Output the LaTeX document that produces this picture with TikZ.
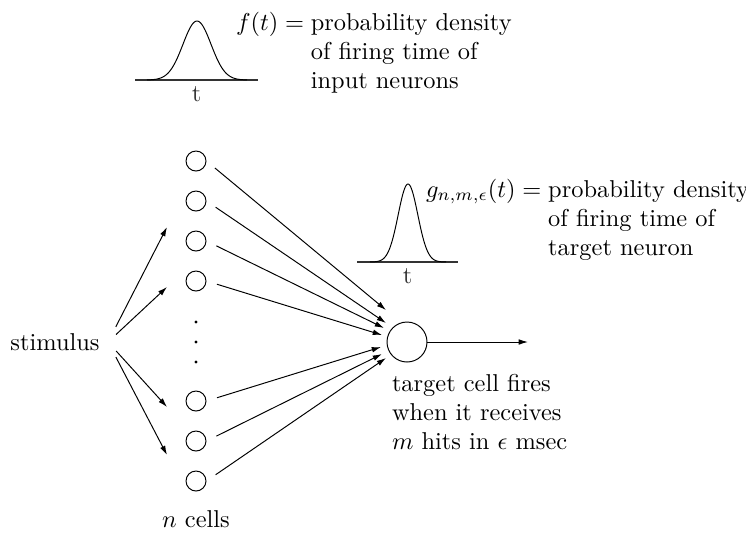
\documentclass[tikz,border=0pt]{standalone}
\usepackage{amsmath, amssymb}
\usepackage{tikz}
\usetikzlibrary{arrows.meta, calc, positioning}
\tikzset{
  >=latex,
  % neuroni
  cell/.style={circle,draw,thin,minimum size=8.2pt,inner sep=0pt},
  cell target/.style={cell,minimum size=16.4pt},
  % testi
  label/.style={inner sep=0pt,outer sep=0pt},
  % curve di densita
  axis line/.style={line width=0.6pt,black!80},
  density/.style={thin,smooth}
}

\begin{document}
\begin{tikzpicture}[x=0.41pt,y=-0.41pt,
      arr/.style={-{Latex[length=3.8pt,width=2.3pt]},thin}]
  \useasboundingbox (0,0) rectangle (746,533);
  % densita in ingresso
  \draw[axis line] (135,80) -- (258,80) node[label,midway,below=2.5pt] (tin) {t};
  \draw[density] plot[domain=-50:50,samples=80] ({197+\x},{80-59*exp(-(\x/14)^2/2)});
  \node[label,anchor=base west] (fin) at (236,30)
    {\begin{tabular}[t]{@{}r@{}l@{}}
       $f(t) = {}$ & probability density\\
                   & of firing time of\\
                   & input neurons
     \end{tabular}};
  % densita in uscita
  \draw[axis line] (357,262) -- (458,262) node[label,midway,below=2.5pt] (tout) {t};
  \draw[density] plot[domain=-38:38,samples=80] ({408+\x},{262-78*exp(-(\x/9.8)^2/2)});
  \node[label,anchor=base west] (gout) at (426,197)
    {\begin{tabular}[t]{@{}r@{}l@{}}
       $g_{n,m,\epsilon}(t) = {}$ & probability density\\
                                  & of firing time of\\
                                  & target neuron
     \end{tabular}};
  % stimolo
  \node[label,anchor=base] (stim) at (55,350) {stimulus};
  \coordinate (src) at (108,342);
  \coordinate (s1) at (167,227);
  \coordinate (s2) at (167,287);
  \coordinate (s3) at (167,407);
  \coordinate (s4) at (167,455);
  \draw[arr,shorten <=7pt] (src) -- (s1);
  \draw[arr,shorten <=4.5pt] (src) -- (s2);
  \draw[arr,shorten <=5pt] (src) -- (s3);
  \draw[arr,shorten <=7pt] (src) -- (s4);
  % cellule di ingresso
  \foreach \i/\y in {1/161,2/201,3/241,4/281,5/401,6/441,7/481}
    \node[cell] (c\i) at (196,\y) {};
  \foreach \y in {322,342,362}
    \fill (196,\y) circle (1.6);
  \node[label,anchor=base] (ncells) at (196,527) {$n$ cells};
  % cellula bersaglio
  \node[cell target] (tgt) at (407,342) {};
  \foreach \i/\dx/\dy in {1/-21/-32,2/-21/-19,3/-23/-14,4/-25/-7,5/-26/5,6/-25/12,7/-21/16}
    \draw[arr,shorten <=4.5pt] (c\i.east) -- ($(tgt)+(\dx,\dy)$);
  \coordinate (out) at (528,342);
  \draw[arr] (tgt.east) -- (out);
  \node[label,anchor=base west] (rule) at (392,391)
    {\begin{tabular}[t]{@{}l@{}}
       target cell fires\\
       when it receives\\
       $m$ hits in $\epsilon$ msec
     \end{tabular}};
\end{tikzpicture}
\end{document}
